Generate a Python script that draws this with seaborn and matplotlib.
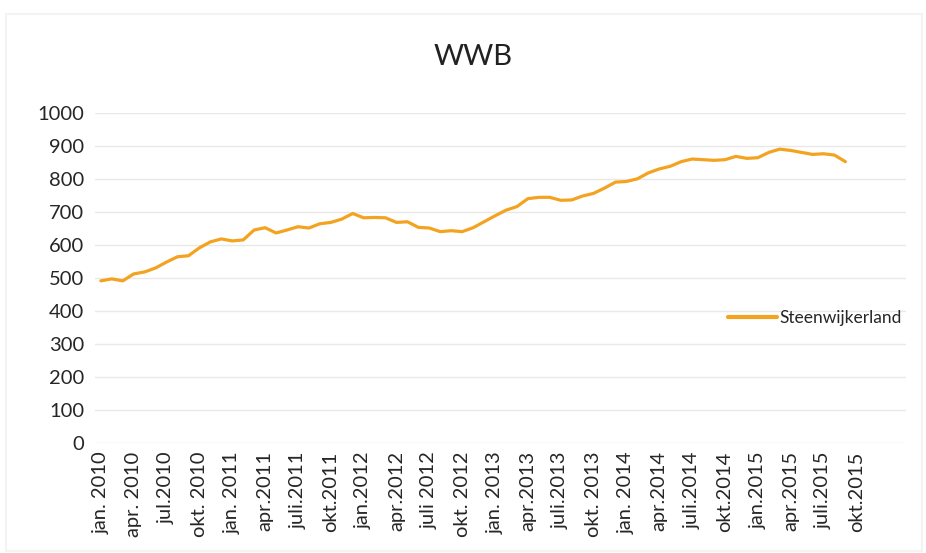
import numpy as np
import pandas as pd
import matplotlib
matplotlib.use("Agg")
import matplotlib.pyplot as plt
import seaborn as sns

# monthly counts, jan 2010 .. sep 2015
months = pd.date_range("2010-01-01", "2015-09-01", freq="MS")
wwb_values = [
    491, 497, 491, 512, 518, 530, 548, 564, 567, 591, 609, 618,
    612, 615, 645, 652, 636, 645, 655, 651, 664, 668, 678, 695,
    682, 683, 682, 668, 670, 653, 651, 640, 643, 640, 652, 670,
    688, 705, 716, 740, 744, 744, 735, 736, 748, 756, 772, 790,
    792, 800, 818, 830, 838, 852, 860, 858, 856, 858, 868, 862,
    864, 880, 890, 886, 880, 874, 876, 872, 852,
]
tick_labels = [
    "jan. 2010", "apr. 2010", "jul.2010", "okt. 2010",
    "jan. 2011", "apr.2011", "juli.2011", "okt.2011",
    "jan.2012", "apr.2012", "juli 2012", "okt. 2012",
    "jan. 2013", "apr.2013", "juli.2013", "okt. 2013",
    "jan. 2014", "apr.2014", "juli.2014", "okt.2014",
    "jan.2015", "apr.2015", "juli.2015", "okt.2015",
]
series_name = "Steenwijkerland"
y_ticks = list(range(0, 1001, 100))

df = pd.DataFrame({"idx": np.arange(len(wwb_values)), "value": wwb_values,
                   "region": series_name})

sns.set_theme(style="white")
plt.rcParams["font.family"] = ["Lato", "DejaVu Sans"]

fig = plt.figure(figsize=(9.26, 5.53), dpi=100)
ax = fig.add_axes([0.103, 0.199, 0.875, 0.597])

sns.lineplot(data=df, x="idx", y="value", hue="region", palette=["#F4A320"],
             linewidth=2.3, ax=ax)

ax.set_ylim(0, 1000)
ax.set_xlim(-0.5, 73.5)
ax.set_yticks(y_ticks)
ax.set_yticklabels([str(v) for v in y_ticks], fontsize=14.5, color="#262626")
ax.set_xticks(np.arange(0, 3 * len(tick_labels), 3))
ax.set_xticklabels(tick_labels, rotation=90, fontsize=14.5, color="#262626")
ax.tick_params(axis="both", length=0, pad=6)
ax.tick_params(axis="y", pad=8)
ax.set_xlabel("")
ax.set_ylabel("")
ax.grid(axis="y", color="#e8e8e8", linewidth=1)
ax.set_axisbelow(True)
for s in ax.spines.values():
    s.set_visible(False)

leg = ax.legend(loc="center left", bbox_to_anchor=(0.773, 0.425),
                bbox_transform=fig.transFigure, frameon=False,
                fontsize=12.5, handlelength=2.8, handletextpad=0.15,
                borderpad=0.2)
for line in leg.get_lines():
    line.set_linewidth(3)

fig.text(0.511, 0.897, "WWB", ha="center", va="center", fontsize=21,
         color="#222222")

# faint chart border like the original
fig.patches.append(plt.Rectangle((0.006, 0.004), 0.99, 0.97, transform=fig.transFigure,
                                 fill=False, edgecolor="#f3f3f3", linewidth=1.5))

fig.savefig("out.png", dpi=100)
